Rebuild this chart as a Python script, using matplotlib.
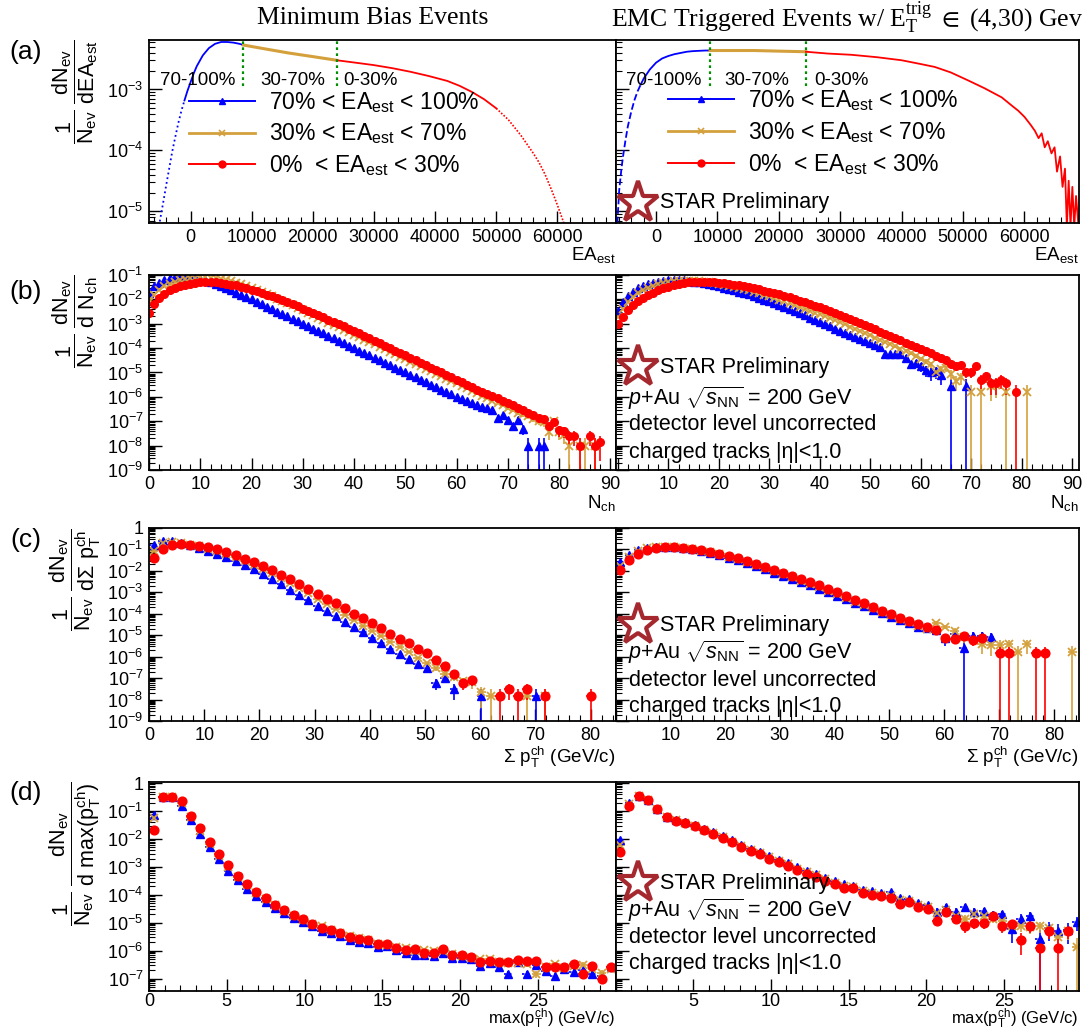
import numpy as np
import matplotlib.pyplot as plt
import matplotlib.transforms as mtransforms
from matplotlib.lines import Line2D
from matplotlib.ticker import LogLocator, MultipleLocator, NullFormatter, FuncFormatter

plt.rcParams['font.family'] = ['Liberation Sans', 'DejaVu Sans']
plt.rcParams['mathtext.fontset'] = 'custom'
plt.rcParams['mathtext.rm'] = 'Liberation Sans'
plt.rcParams['mathtext.it'] = 'Liberation Sans:italic'
plt.rcParams['mathtext.bf'] = 'Liberation Sans:bold'
plt.rcParams['mathtext.sf'] = 'Liberation Sans'

BLUE, GOLD, RED = '#0000ff', '#d4a03c', '#ff0000'
GREEN, STARC = '#008f00', '#a5282f'

# ---------------- (a) EA_est distributions (log10 of 1/N dN/dEA) ----------------
ea_mb_blue_x = [-5500, -5000, -4500, -4000, -3500, -3000, -2500, -2000, -1500, -1000, -500,
                0, 500, 1000, 2000, 3000, 4000, 5000, 6000, 7000, 8000, 8650]
ea_mb_blue_y = [-5.40, -5.15, -4.87, -4.58, -4.30, -4.02, -3.78, -3.55, -3.35, -3.18, -3.02,
                -2.88, -2.74, -2.62, -2.44, -2.32, -2.25, -2.22, -2.22, -2.23, -2.25, -2.27]
ea_mb_gold_x = [8650, 12000, 16000, 20000, 23900]
ea_mb_gold_y = [-2.27, -2.33, -2.40, -2.46, -2.52]
ea_mb_red_x = [23900, 27000, 30000, 33000, 36000, 39000, 42000, 44000, 46000, 48000, 50000,
               52000, 54000, 56000, 57000, 58000, 59000, 60000, 61000, 61500]
ea_mb_red_y = [-2.52, -2.56, -2.60, -2.65, -2.71, -2.78, -2.86, -2.94, -3.04, -3.16, -3.31,
               -3.50, -3.75, -4.04, -4.20, -4.40, -4.64, -4.90, -5.18, -5.35]
ea_mb_cuts = [8600, 23900]

ea_emc_blue_x = [-6300, -6000, -5600, -5300, -5000, -4600, -4000, -3500, -3000, -2500, -2000,
                 -1000, 0, 1000, 2000, 3000, 4000, 5000, 6000, 7000, 8000, 8800]
ea_emc_blue_y = [-5.20, -4.66, -4.27, -4.05, -3.85, -3.61, -3.35, -3.17, -3.03, -2.92, -2.82,
                 -2.67, -2.56, -2.49, -2.45, -2.42, -2.40, -2.38, -2.37, -2.365, -2.36, -2.36]
ea_emc_gold_x = [8800, 12000, 16000, 20000, 24400]
ea_emc_gold_y = [-2.36, -2.36, -2.36, -2.37, -2.38]
ea_emc_red_x = [24400, 28000, 31800, 36000, 40000, 43000, 45400, 48000, 50800, 53500, 56300,
                58000, 59000, 60000, 61000, 61700, 62300, 62800, 63300, 63800, 64400, 64900,
                65300, 65800, 66200, 66600, 66900, 67200, 67500, 67800, 68100, 68400, 68800]
ea_emc_red_y = [-2.38, -2.41, -2.43, -2.47, -2.52, -2.58, -2.63, -2.72, -2.85, -2.98, -3.13,
                -3.27, -3.35, -3.45, -3.58, -3.68, -3.80, -3.72, -3.95, -3.85, -4.05, -3.95,
                -4.35, -4.10, -4.60, -4.30, -5.25, -4.50, -5.25, -4.60, -5.25, -4.75, -5.25]
ea_emc_cuts = [8800, 24400]

# ---------------- (b) N_ch, unit bins starting at 0 ----------------
nch_mb_blue = [-1.73, -1.47, -1.31, -1.20, -1.13, -1.09, -1.07, -1.07, -1.09, -1.12,
               -1.16, -1.22, -1.29, -1.37, -1.45, -1.54, -1.63, -1.72, -1.81, -1.90,
               -2.00, -2.10, -2.20, -2.30, -2.40, -2.50, -2.60, -2.70, -2.80, -2.90,
               -3.00, -3.10, -3.20, -3.30, -3.40, -3.50, -3.60, -3.70, -3.80, -3.90,
               -4.00, -4.10, -4.20, -4.30, -4.40, -4.50, -4.60, -4.70, -4.80, -4.90,
               -5.00, -5.10, -5.20, -5.30, -5.40, -5.50, -5.60, -5.70, -5.80, -5.90,
               -6.00, -6.08, -6.16, -6.24, -6.32, -6.40, -6.47, -6.54, -6.85, -6.75,
               -6.95, -7.20, -6.95, -7.30]
nch_mb_blue_tail = ([74, 76, 77], [-8.0, -8.0, -8.0])
nch_mb_gold = [-2.10, -1.82, -1.60, -1.45, -1.35, -1.27, -1.21, -1.16, -1.13, -1.11,
               -1.10, -1.10, -1.11, -1.13, -1.16, -1.20, -1.25, -1.31, -1.38, -1.45,
               -1.53, -1.61, -1.70, -1.79, -1.88, -1.97, -2.06, -2.15, -2.25, -2.35,
               -2.45, -2.55, -2.65, -2.75, -2.85, -2.95, -3.05, -3.15, -3.25, -3.35,
               -3.45, -3.55, -3.65, -3.75, -3.85, -3.95, -4.05, -4.15, -4.25, -4.35,
               -4.45, -4.55, -4.65, -4.75, -4.85, -4.95, -5.05, -5.15, -5.25, -5.35,
               -5.45, -5.55, -5.65, -5.75, -5.85, -5.95, -6.05, -6.15, -6.25, -6.35,
               -6.45, -6.55, -6.65, -6.72, -6.80, -6.90, -7.00, -7.05, -7.45, -7.00,
               -7.45, -7.55]
nch_mb_gold_tail = ([82, 84, 85, 87], [-8.0, -8.0, -8.0, -8.0])
nch_mb_red = [-2.55, -2.20, -1.95, -1.77, -1.63, -1.53, -1.45, -1.39, -1.35, -1.32,
              -1.30, -1.29, -1.29, -1.30, -1.32, -1.35, -1.39, -1.43, -1.48, -1.54,
              -1.60, -1.67, -1.74, -1.81, -1.88, -1.96, -2.04, -2.12, -2.20, -2.29,
              -2.38, -2.47, -2.56, -2.65, -2.74, -2.83, -2.92, -3.01, -3.10, -3.20,
              -3.30, -3.40, -3.50, -3.60, -3.70, -3.80, -3.90, -4.00, -4.10, -4.20,
              -4.30, -4.40, -4.50, -4.60, -4.70, -4.80, -4.90, -5.00, -5.10, -5.20,
              -5.30, -5.40, -5.50, -5.60, -5.70, -5.80, -5.88, -5.97, -6.06, -6.15,
              -6.25, -6.33, -6.45, -6.55, -6.65, -6.75, -6.85, -6.90, -7.20, -7.05,
              -7.35, -7.40, -7.60]
nch_mb_red_tail = ([83, 84, 86, 87, 88], [-7.6, -8.0, -7.6, -8.0, -7.85])

nch_emc_blue = [-2.47, -2.10, -1.85, -1.68, -1.55, -1.45, -1.38, -1.32, -1.27, -1.24,
                -1.22, -1.21, -1.21, -1.22, -1.24, -1.27, -1.30, -1.34, -1.38, -1.42,
                -1.47, -1.52, -1.57, -1.62, -1.68, -1.74, -1.80, -1.87, -1.94, -2.01,
                -2.08, -2.16, -2.24, -2.32, -2.40, -2.48, -2.57, -2.66, -2.75, -2.84,
                -2.93, -3.02, -3.11, -3.20, -3.29, -3.38, -3.47, -3.56, -3.64, -3.72,
                -3.80, -3.88, -3.96, -4.25, -4.25, -4.25, -4.25, -4.40, -4.67, -4.60,
                -4.75, -4.90, -5.00, -4.95, -5.10]
nch_emc_blue_tail = ([66, 69], [-5.55, -5.55])
nch_emc_gold = [-2.73, -2.40, -2.10, -1.90, -1.74, -1.62, -1.52, -1.44, -1.38, -1.33,
                -1.29, -1.26, -1.24, -1.23, -1.23, -1.24, -1.25, -1.27, -1.30, -1.33,
                -1.36, -1.40, -1.44, -1.48, -1.53, -1.58, -1.63, -1.69, -1.75, -1.81,
                -1.87, -1.94, -2.01, -2.08, -2.15, -2.22, -2.30, -2.38, -2.46, -2.54,
                -2.62, -2.70, -2.78, -2.86, -2.94, -3.03, -3.12, -3.21, -3.30, -3.39,
                -3.48, -3.57, -3.66, -3.75, -3.84, -3.93, -4.02, -4.11, -4.22, -4.33,
                -4.44, -4.55, -4.66, -5.00, -4.85, -4.80, -5.05, -5.35, -5.20]
nch_emc_gold_tail = ([70, 72, 74, 75, 77, 81], [-5.8, -5.8, -5.55, -5.5, -5.8, -5.8])
nch_emc_red = [-3.03, -2.72, -2.45, -2.25, -2.08, -1.94, -1.82, -1.72, -1.63, -1.55,
               -1.48, -1.42, -1.37, -1.33, -1.30, -1.28, -1.27, -1.27, -1.28, -1.29,
               -1.31, -1.33, -1.36, -1.39, -1.42, -1.46, -1.50, -1.54, -1.59, -1.64,
               -1.69, -1.74, -1.80, -1.86, -1.92, -1.98, -2.05, -2.12, -2.19, -2.26,
               -2.33, -2.40, -2.48, -2.56, -2.64, -2.72, -2.80, -2.88, -2.96, -3.05,
               -3.14, -3.23, -3.32, -3.41, -3.50, -3.59, -3.68, -3.77, -3.86, -3.95,
               -4.04, -4.13, -4.22, -4.31, -4.40, -4.50, -4.65, -4.75, -4.70, -5.00,
               -5.00, -4.75, -5.30, -5.15, -5.45, -5.45, -5.30, -5.45]
nch_emc_red_tail = ([79], [-5.8])

# ---------------- (c) sum pT, bins of 1.65 GeV/c ----------------
spt_bin = 1.65
spt_mb_blue = [-0.78, -0.60, -0.62, -0.70, -0.80, -0.92, -1.05, -1.20, -1.36, -1.54,
               -1.73, -1.93, -2.15, -2.38, -2.62, -2.87, -3.12, -3.37, -3.62, -3.87,
               -4.12, -4.37, -4.62, -4.87, -5.12, -5.37, -5.62, -5.87, -6.12, -6.35,
               -6.55, -7.23, -7.00, -7.50]
spt_mb_blue_tail = ([36, 42], [-7.83, -7.83])
spt_mb_gold = [-1.05, -0.68, -0.65, -0.70, -0.78, -0.86, -0.96, -1.08, -1.21, -1.36,
               -1.53, -1.71, -1.91, -2.12, -2.34, -2.57, -2.81, -3.05, -3.30, -3.55,
               -3.80, -4.05, -4.30, -4.55, -4.80, -5.05, -5.30, -5.55, -5.80, -6.05,
               -6.30, -6.55, -6.80, -6.95, -7.15, -7.20, -7.65]
spt_mb_gold_tail = ([37, 41, 43], [-7.83, -7.83, -7.83])
spt_mb_red = [-1.38, -0.96, -0.78, -0.75, -0.78, -0.82, -0.90, -1.00, -1.12, -1.27,
              -1.44, -1.60, -1.78, -1.98, -2.17, -2.38, -2.61, -2.83, -3.07, -3.30,
              -3.52, -3.75, -3.99, -4.21, -4.45, -4.68, -4.92, -5.16, -5.38, -5.65,
              -5.85, -6.15, -6.43, -6.80, -7.23, -7.10]
spt_mb_red_tail = ([38, 39, 40, 41, 43, 48], [-7.83, -7.5, -7.83, -7.5, -7.83, -7.83])

spt_emc_blue = [-1.60, -1.25, -1.02, -0.92, -0.88, -0.88, -0.90, -0.95, -1.00, -1.08,
                -1.17, -1.27, -1.38, -1.51, -1.65, -1.79, -1.93, -2.08, -2.23, -2.38,
                -2.53, -2.68, -2.84, -3.00, -3.16, -3.33, -3.50, -3.66, -3.82, -3.98,
                -4.13, -4.30, -4.45, -4.60, -4.68, -4.75, -5.13, -4.95, -5.58, -5.02,
                -5.02, -5.08]
spt_emc_gold = [-1.78, -1.35, -1.08, -0.95, -0.90, -0.88, -0.90, -0.95, -0.99, -1.06,
                -1.14, -1.23, -1.34, -1.46, -1.60, -1.73, -1.86, -2.01, -2.16, -2.30,
                -2.45, -2.60, -2.75, -2.92, -3.07, -3.25, -3.43, -3.59, -3.74, -3.92,
                -4.07, -4.25, -4.40, -4.55, -4.70, -4.42, -4.60, -4.80, -5.10]
spt_emc_gold_tail = ([40, 41, 42, 43, 44, 45, 50], [-5.43, -5.46, -5.46, -5.43, -5.8, -5.43, -5.8])
spt_emc_red = [-1.98, -1.48, -1.20, -1.03, -0.93, -0.88, -0.88, -0.93, -0.96, -1.03,
               -1.11, -1.20, -1.30, -1.42, -1.56, -1.68, -1.80, -1.95, -2.10, -2.23,
               -2.38, -2.53, -2.68, -2.85, -3.00, -3.18, -3.36, -3.52, -3.67, -3.85,
               -4.00, -4.18, -4.33, -4.48, -4.63, -4.75, -5.13, -5.16, -5.05, -5.23,
               -5.13]
spt_emc_red_tail = ([42, 43, 46, 47], [-5.85, -5.85, -5.85, -5.85])

# ---------------- (d) max pT, bins of 0.6 GeV/c ----------------
mpt_bin = 0.6
mpt_mb_blue = [-1.13, -0.48, -0.48, -0.82, -1.32, -1.83, -2.30, -2.73, -3.14, -3.47,
               -3.78, -4.05, -4.27, -4.48, -4.66, -4.83, -4.98, -5.12, -5.28, -5.36,
               -5.48, -5.60, -5.68, -5.72, -5.85, -5.82, -5.98, -6.08, -6.15, -6.15,
               -6.20, -6.10, -6.25, -6.25, -6.30, -6.55, -6.45, -6.60, -6.85, -6.40,
               -6.85, -6.50, -6.72, -6.92, -6.65, -6.75, -6.70, -6.85, -6.90, -6.58]
mpt_mb_gold = [-1.25, -0.48, -0.48, -0.70, -1.22, -1.70, -2.18, -2.60, -3.00, -3.36,
               -3.66, -3.93, -4.15, -4.38, -4.58, -4.74, -4.90, -5.05, -5.12, -5.25,
               -5.36, -5.48, -5.55, -5.62, -5.75, -5.78, -5.85, -5.92, -6.00, -5.98,
               -6.00, -6.00, -6.12, -6.20, -6.25, -6.28, -6.28, -6.40, -6.45, -6.45,
               -6.48, -6.82, -6.60, -6.48, -6.62, -6.55, -6.50, -6.65, -6.80, -6.65]
mpt_mb_red = [-1.66, -0.48, -0.48, -0.64, -1.16, -1.62, -2.12, -2.55, -2.94, -3.31,
              -3.62, -3.90, -4.12, -4.35, -4.55, -4.71, -4.86, -5.03, -5.19, -5.25,
              -5.38, -5.50, -5.58, -5.60, -5.77, -5.77, -5.89, -5.99, -5.93, -6.08,
              -6.08, -5.95, -6.14, -6.17, -6.24, -6.42, -6.36, -6.42, -6.40, -6.32,
              -6.38, -6.36, -6.57, -6.59, -6.59, -6.46, -6.85, -6.54, -7.00, -6.60]

mpt_emc_blue = [-2.05, -0.71, -0.47, -0.60, -0.92, -1.20, -1.32, -1.40, -1.50, -1.63,
                -1.76, -1.90, -2.05, -2.20, -2.35, -2.47, -2.61, -2.75, -2.87, -3.01,
                -3.13, -3.25, -3.38, -3.50, -3.62, -3.70, -3.82, -3.87, -3.95, -3.90,
                -4.13, -4.15, -4.30, -4.38, -4.60, -4.45, -4.60, -4.42, -4.60, -4.58,
                -4.72, -4.70, -5.23, -4.85, -4.77, -5.57, -5.20, -5.30, -5.25, -4.98]
mpt_emc_gold = [-2.22, -0.76, -0.47, -0.61, -0.92, -1.21, -1.33, -1.42, -1.52, -1.66,
                -1.79, -1.94, -2.09, -2.24, -2.39, -2.51, -2.66, -2.79, -2.91, -3.06,
                -3.19, -3.30, -3.44, -3.56, -3.68, -3.73, -3.87, -3.93, -4.00, -4.05,
                -4.20, -4.22, -4.38, -4.45, -4.65, -4.55, -4.75, -4.86, -4.70, -4.75,
                -4.85, -4.95, -5.10, -5.10, -5.15, -5.12, -5.20, -5.52, -5.30, -5.85]
mpt_emc_red = [-2.45, -0.81, -0.47, -0.62, -0.93, -1.22, -1.34, -1.43, -1.53, -1.68,
               -1.81, -1.97, -2.12, -2.28, -2.43, -2.55, -2.70, -2.83, -2.95, -3.11,
               -3.24, -3.36, -3.49, -3.61, -3.74, -3.76, -3.92, -3.99, -4.05, -4.13,
               -4.32, -4.27, -4.45, -4.52, -4.92, -4.61, -4.86, -5.13, -5.02, -5.02,
               -4.77, -5.13, -5.04, -5.60, -5.13, -5.89, -5.29, -5.89, -5.29]

# single-count level (log10) of each class, sets the Poisson error bars
single_mb = {'b': -8.0, 'c': -7.83, 'd': -7.9}
single_emc = {'b': (-5.55, -5.8, -5.8), 'c': (-5.58, -5.8, -5.85), 'd': (-5.57, -5.85, -5.89)}

legend_labels = [r'70% < EA$_{\rm est}$ < 100%', r'30% < EA$_{\rm est}$ < 70%',
                 r'0%  < EA$_{\rm est}$ < 30%']

# ---------------- figure ----------------
W, H = 1088, 1032
fig = plt.figure(figsize=(W / 100, H / 100), dpi=100)

cols = [(149, 615.5), (615.5, 1078.5)]
rows = [(40, 223), (275, 470), (528, 721), (782, 991)]
ylims = [(6.4e-6, 6.5e-3), (1e-9, 1e-1), (1e-9, 1.0), (3.6e-8, 1.1)]


def panel(r, c):
    l, rr = cols[c]
    t, b = rows[r]
    ax = fig.add_axes([l / W, 1 - b / H, (rr - l) / W, (b - t) / H])
    ax.set_yscale('log')
    ax.set_ylim(*ylims[r])
    ax.yaxis.set_major_locator(LogLocator(base=10, numticks=20))
    ax.yaxis.set_minor_locator(LogLocator(base=10, subs=np.arange(2, 10), numticks=20))
    ax.yaxis.set_minor_formatter(NullFormatter())
    if c == 0:
        ax.yaxis.set_major_formatter(FuncFormatter(
            lambda v, p: '1' if round(np.log10(v)) == 0 else r'$10^{%d}$' % round(np.log10(v))))
    else:
        ax.yaxis.set_major_formatter(NullFormatter())
    ax.tick_params(which='both', direction='in', top=False, right=False, labelsize=13, pad=4)
    if r == 3:
        ax.tick_params(axis='x', pad=1.5)
    ax.tick_params(which='major', length=9, width=1.0)
    ax.tick_params(which='minor', length=4.5, width=0.8)
    for s in ax.spines.values():
        s.set_linewidth(1.3)
    return ax


def points(ax, x, logy, color, marker, single, ms, xerr=None, dotted_x=False):
    x = np.asarray(x, dtype=float)
    y = 10.0 ** np.asarray(logy)
    err = np.sqrt(y * 10.0 ** single)
    ylo = ax.get_ylim()[0]
    lo = np.maximum(np.minimum(err, y - ylo * 0.5), 0)
    kw = dict(mfc=color, mec=color)
    if marker == 'x':
        kw = dict(mec=color, mew=1.3)
    eb = ax.errorbar(x, y, yerr=[lo, err], xerr=xerr, fmt=marker, color=color, ms=ms,
                     elinewidth=1.2, capsize=0, **kw)
    if dotted_x and xerr is not None:
        eb[2][0].set_linestyle((0, (1.5, 1.5)))
    return eb


def star_block(ax, ys, full=True):
    ax.plot([0.049], [ys[0]], marker='*', ms=31, mfc='white', mec=STARC, mew=3.0,
            transform=ax.transAxes, clip_on=False, zorder=5)
    ax.text(0.096, ys[0], 'STAR Preliminary', transform=ax.transAxes, fontsize=15.5,
            va='center', ha='left')
    if full:
        ax.text(0.027, ys[1], r'$p$+Au $\sqrt{s_{\rm NN}}$ = 200 GeV', transform=ax.transAxes,
                fontsize=15.5, va='center', ha='left')
        ax.text(0.030, ys[2], 'detector level uncorrected', transform=ax.transAxes,
                fontsize=15.5, va='center', ha='left')
        ax.text(0.030, ys[3], 'charged tracks |η|<1.0', transform=ax.transAxes,
                fontsize=15.5, va='center', ha='left')


def ylabel(ax, s, xc):
    ax.text(xc, 1.0, s, transform=ax.transAxes, rotation=90, ha='center', va='top',
            fontsize=15.5)


def xlabel(ax, s, yc, fs=13.5):
    if yc is None:
        # bottom row: the title rests on the lower edge of the picture
        tr = mtransforms.blended_transform_factory(ax.transAxes, fig.transFigure)
        ax.text(1.0, 1 - 1031 / H, s, transform=tr, ha='right', va='bottom', fontsize=fs)
        return
    ax.text(1.0, yc, s, transform=ax.transAxes, ha='right', va='center', fontsize=fs)


# ---- row (a)
ea_sets = [
    (ea_mb_blue_x, ea_mb_blue_y, ea_mb_gold_x, ea_mb_gold_y, ea_mb_red_x, ea_mb_red_y,
     ea_mb_cuts, (-6800, 69500), -1000, 50000, ':'),
    (ea_emc_blue_x, ea_emc_blue_y, ea_emc_gold_x, ea_emc_gold_y, ea_emc_red_x, ea_emc_red_y,
     ea_emc_cuts, (-6600, 68800), -2500, 99999, '--'),
]
cut_txt_x = [(0.024, 0.238, 0.416), (0.023, 0.236, 0.429)]
leg_anchor = [(0.085, 0.728), (0.113, 0.735)]
for c, (bx, by, gx, gy, rx, ry, cuts, xl, bsplit, rsplit, bstyle) in enumerate(ea_sets):
    ax = panel(0, c)
    ax.set_xlim(*xl)
    bx, by = np.array(bx), 10.0 ** np.array(by)
    m = bx <= bsplit
    ax.plot(bx[m], by[m], color=BLUE, lw=1.3, ls=bstyle)
    ax.plot(bx[bx >= bsplit], by[bx >= bsplit], color=BLUE, lw=1.3)
    ax.plot(gx, 10.0 ** np.array(gy), color=GOLD, lw=2.2)
    rx, ry = np.array(rx), 10.0 ** np.array(ry)
    ax.plot(rx[rx <= rsplit], ry[rx <= rsplit], color=RED, lw=1.3)
    if rsplit < rx.max():
        ax.plot(rx[rx >= rsplit], ry[rx >= rsplit], color=RED, lw=1.2, ls=(0, (1, 1)))
    ax.vlines(cuts, 1.15e-3, ylims[0][1], colors=GREEN, linestyles=(0, (1.2, 1.5)), lw=1.6)
    ax.xaxis.set_major_locator(MultipleLocator(10000))
    ax.xaxis.set_minor_locator(MultipleLocator(2000))
    ax.xaxis.set_major_formatter(FuncFormatter(lambda v, p: '%d' % v))
    for xt, s in zip(cut_txt_x[c], ['70-100%', '30-70%', '0-30%']):
        ax.text(xt, 0.78, s, transform=ax.transAxes, fontsize=13.5, va='center', ha='left')
    handles = [Line2D([], [], color=BLUE, marker='^', ms=5, lw=1.4),
               Line2D([], [], color=GOLD, marker='x', ms=5, mew=1.2, lw=2),
               Line2D([], [], color=RED, marker='o', ms=5, lw=1.4)]
    ax.legend(handles, legend_labels, loc='upper left', bbox_to_anchor=leg_anchor[c],
              frameon=False, fontsize=16.5, handlelength=2.9, handletextpad=0.6,
              labelspacing=0.3, borderaxespad=0, borderpad=0)
    xlabel(ax, r'EA$_{\rm est}$', -0.175)
    if c == 0:
        ylabel(ax, r'$\dfrac{1}{\mathrm{N}_{\mathrm{ev}}}\ \dfrac{\mathrm{dN}_{\mathrm{ev}}}{\mathrm{dEA}_{\mathrm{est}}}$', -0.158)
    else:
        star_block(ax, [0.11], full=False)

# ---- rows (b), (c), (d)
row_defs = [
    ('b', 1.0, 0.0, (nch_mb_blue, nch_mb_gold, nch_mb_red),
     (nch_mb_blue_tail, nch_mb_gold_tail, nch_mb_red_tail),
     (nch_emc_blue, nch_emc_gold, nch_emc_red),
     (nch_emc_blue_tail, nch_emc_gold_tail, nch_emc_red_tail),
     [(0, 91), (-0.5, 91.3)], 10, 2, 5.5, False, None),
    ('c', spt_bin, 0.5, (spt_mb_blue, spt_mb_gold, spt_mb_red),
     (spt_mb_blue_tail, spt_mb_gold_tail, spt_mb_red_tail),
     (spt_emc_blue, spt_emc_gold, spt_emc_red),
     (([], []), spt_emc_gold_tail, spt_emc_red_tail),
     [(0, 84.5), (0, 84.5)], 10, 2, 6.3, True, None),
    ('d', mpt_bin, 0.5, (mpt_mb_blue, mpt_mb_gold, mpt_mb_red),
     (([], []), ([], []), ([], [])),
     (mpt_emc_blue, mpt_emc_gold, mpt_emc_red),
     (([], []), ([], []), ([], [])),
     [(0, 30), (0, 29.8)], 5, 1, 6.3, True, 30),
]
styles = [(BLUE, '^'), (GOLD, 'x'), (RED, 'o')]
ylab = {
    'b': r'$\dfrac{1}{\mathrm{N}_{\mathrm{ev}}}\ \dfrac{\mathrm{dN}_{\mathrm{ev}}}{\mathrm{d\ N}_{\mathrm{ch}}}$',
    'c': r'$\dfrac{1}{\mathrm{N}_{\mathrm{ev}}}\ \dfrac{\mathrm{dN}_{\mathrm{ev}}}{\mathrm{d\Sigma\ p}_{\mathrm{T}}^{\mathrm{ch}}}$',
    'd': r'$\dfrac{1}{\mathrm{N}_{\mathrm{ev}}}\ \dfrac{\mathrm{dN}_{\mathrm{ev}}}{\mathrm{d\ max(p}_{\mathrm{T}}^{\mathrm{ch}}\mathrm{)}}$',
}
xlab = {'b': (r'N$_{\rm ch}$', -0.17, 13.5),
        'c': (r'Σ p$_{\rm T}^{\rm ch}$ (GeV/c)', -0.19, 13.5),
        'd': (r'max(p$_{\rm T}^{\rm ch}$) (GeV/c)', None, 12)}
star_ys = {'b': [0.528, 0.369, 0.231, 0.092],
           'c': [0.497, 0.358, 0.212, 0.073],
           'd': [0.515, 0.385, 0.255, 0.132]}

for r, (key, bw, off, mb, mb_tail, emc, emc_tail, xls, major, minor, ms, xbars, hide_end) in enumerate(row_defs, start=1):
    for c in range(2):
        ax = panel(r, c)
        ax.set_xlim(*xls[c])
        series = mb if c == 0 else emc
        tails = mb_tail if c == 0 else emc_tail
        for i, ((col, mk), ly, (tx, ty)) in enumerate(zip(styles, series, tails)):
            k = np.concatenate([np.arange(len(ly)), np.asarray(tx, dtype=float)])
            ly = np.concatenate([ly, ty])
            x = (k + off) * bw
            single = single_mb[key] if c == 0 else single_emc[key][i]
            points(ax, x, ly, col, mk, single, ms if mk != '^' else ms * 0.95,
                   xerr=bw / 2 if xbars else None, dotted_x=(mk == '^'))
        ax.xaxis.set_major_locator(MultipleLocator(major))
        ax.xaxis.set_minor_locator(MultipleLocator(minor))
        if c == 0:
            ax.xaxis.set_major_formatter(FuncFormatter(
                lambda v, p, he=hide_end: '' if (he is not None and v >= he) else '%d' % v))
            ylabel(ax, ylab[key], -0.158)
        else:
            ax.xaxis.set_major_formatter(FuncFormatter(lambda v, p: '' if v == 0 else '%d' % v))
            star_block(ax, star_ys[key])
        xlabel(ax, *xlab[key])

# titles and panel tags
fig.text(373 / W, 1 - 18 / H, 'Minimum Bias Events', family='Liberation Serif',
         fontsize=18.5, ha='center', va='center')
fig.text(847 / W, 1 - 18 / H, r'EMC Triggered Events w/ $\mathregular{E_T^{trig}}$ $\in$ (4,30) Gev',
         family='Liberation Serif', math_fontfamily='stix', fontsize=18.5, ha='center', va='center')
for tag, yy in zip(['(a)', '(b)', '(c)', '(d)'], [52, 292, 540, 793]):
    fig.text(26 / W, 1 - yy / H, tag, fontsize=19, ha='center', va='center')

fig.savefig('out.png', dpi=100)
